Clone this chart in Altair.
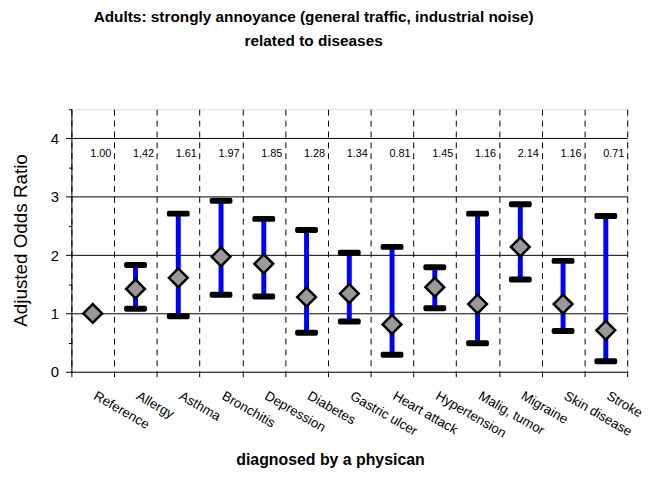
import altair as alt
import pandas as pd

categories = ["Reference", "Allergy", "Asthma", "Bronchitis", "Depression", "Diabetes",
              "Gastric ulcer", "Heart attack", "Hypertension", "Malig, tumor", "Migraine",
              "Skin disease", "Stroke"]
odds = [1.00, 1.42, 1.61, 1.97, 1.85, 1.28, 1.34, 0.81, 1.45, 1.16, 2.14, 1.16, 0.71]
odds_text = ["1.00", "1,42", "1.61", "1.97", "1.85", "1.28", "1.34", "0.81", "1.45",
             "1.16", "2.14", "1.16", "0.71"]
lower = [None, 1.08, 0.95, 1.32, 1.29, 0.67, 0.86, 0.29, 1.09, 0.49, 1.58, 0.70, 0.18]
upper = [None, 1.83, 2.71, 2.93, 2.62, 2.43, 2.04, 2.14, 1.79, 2.71, 2.87, 1.90, 2.67]
y_ticks = [0, 0.5, 1, 1.5, 2, 2.5, 3, 3.5, 4, 4.5]

df = pd.DataFrame({"cat": categories, "or": odds, "txt": odds_text})
ci = pd.DataFrame({"cat": categories, "lo": lower, "hi": upper}).dropna()

FONT = "Liberation Sans"

x_enc = alt.X(
    "cat:N", sort=categories,
    scale=alt.Scale(paddingInner=0, paddingOuter=0),
    axis=alt.Axis(
        title="diagnosed by a physican",
        titleFont=FONT, titleFontSize=16, titleFontWeight="bold", titleColor="black",
        titleX=261, titleY=94, titleBaseline="alphabetic",
        tickBand="extent", grid=True, gridColor="black", gridDash=[6, 5], gridWidth=1,
        tickColor="black", tickSize=5, domainColor="black",
        labelAngle=30, labelAlign="left", labelBaseline="top", labelPadding=12,
        labelOffset=5,
        labelFont=FONT, labelFontSize=13.5, labelColor="black",
    ),
)

y_scale = alt.Scale(domain=[0, 4.5], nice=False)
y_axis = alt.Axis(
    title="Adjusted Odds Ratio",
    titleFont=FONT, titleFontSize=19, titleFontWeight="normal", titleColor="black",
    titleX=-60, titleY=132, titleBaseline="top", titleAlign="center", titleAngle=270,
    values=y_ticks,
    labelExpr="datum.value % 1 == 0 && datum.value < 4.5 ? format(datum.value, 'd') : ''",
    labelFont=FONT, labelFontSize=15, labelColor="black", labelPadding=7,
    grid=True, gridColor="black", gridWidth=1,
    gridOpacity={"condition": {"test": "datum.value % 1 == 0 && datum.value > 0 && datum.value < 4.5", "value": 1}, "value": 0},
    tickSize={"condition": {"test": "datum.value % 1 == 0 && datum.value < 4.5", "value": 6}, "value": 3},
    tickColor="black", domainColor="black",
)

rules = alt.Chart(ci).mark_rule(color="#0000FF", strokeWidth=5).encode(
    x=x_enc,
    y=alt.Y("lo:Q", scale=y_scale, axis=y_axis),
    y2="hi:Q",
)
caps_lo = alt.Chart(ci).mark_tick(color="black", thickness=6, size=23, orient="horizontal",
                                  cornerRadius=2, opacity=1).encode(
    x=x_enc, y=alt.Y("lo:Q", scale=y_scale, axis=y_axis))
caps_hi = alt.Chart(ci).mark_tick(color="black", thickness=6, size=23, orient="horizontal",
                                  cornerRadius=2, opacity=1).encode(
    x=x_enc, y=alt.Y("hi:Q", scale=y_scale, axis=y_axis))
points = alt.Chart(df).mark_point(shape="diamond", filled=True, fill="#999999", stroke="black",
                                  strokeWidth=2.5, size=360, opacity=1).encode(
    x=x_enc, y=alt.Y("or:Q", scale=y_scale, axis=y_axis))
labels = alt.Chart(df).mark_text(font=FONT, fontSize=11, dx=8, color="black").encode(
    x=x_enc, y=alt.value(45), text="txt:N")

chart = alt.layer(rules, caps_lo, caps_hi, points, labels).properties(
    width=561, height=265,
    title=alt.TitleParams(
        ["Adults: strongly annoyance (general traffic, industrial noise)", "related to diseases"],
        font=FONT, fontSize=15.5, fontWeight="bold", color="black", anchor="middle",
        lineHeight=24, offset=60, dx=-36,
    ),
    autosize=alt.AutoSizeParams(type="none"),
    padding={"left": 64, "top": 100, "right": 20, "bottom": 96},
).configure_view(stroke=None).configure(background="white")

chart.save("out.html", embed_options={"renderer": "svg", "actions": False})
